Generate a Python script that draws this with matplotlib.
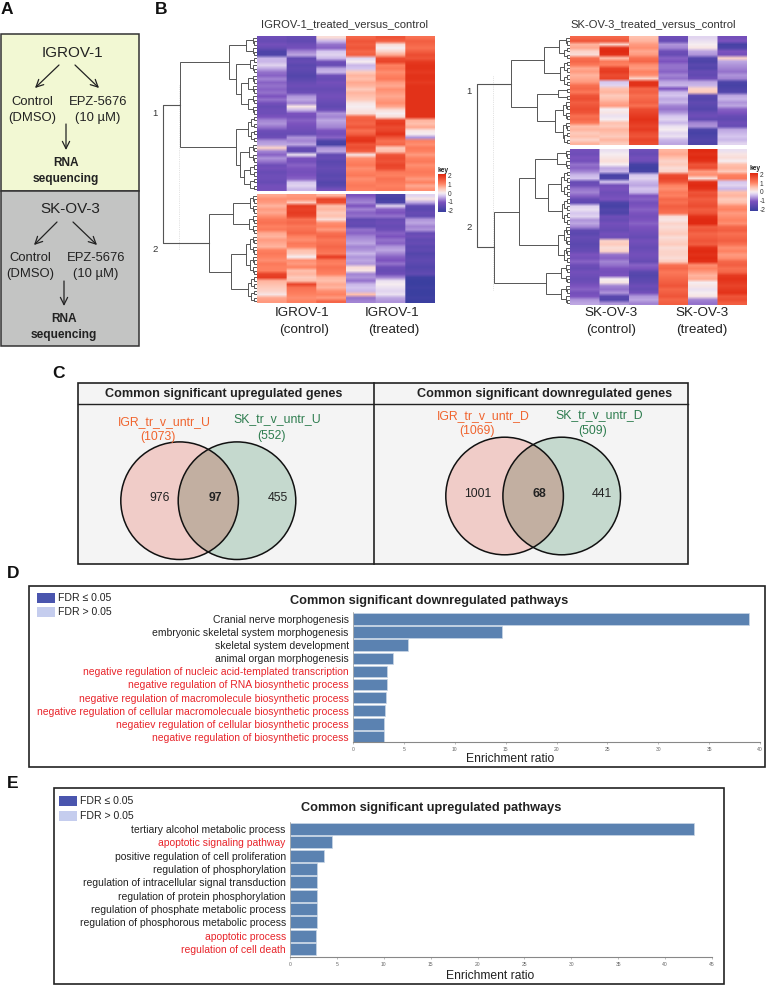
import numpy as np
import matplotlib
matplotlib.use("Agg")
import matplotlib.pyplot as plt
from matplotlib.colors import LinearSegmentedColormap
from matplotlib.patches import Rectangle, Ellipse

plt.rcParams['font.family'] = ['Liberation Sans', 'DejaVu Sans']
plt.rcParams['axes.unicode_minus'] = False

W, H = 766, 985

# heatmap values, one list per sample column
igr_top = [
    [-1.2,-1.3,-1.1,-1.3,-1.7,-1.7,-0.4,-0.4,-0.2,-0.5,
     -0.8,-0.9,-0.7,-0.9,-0.8,-0.9,-0.8,-1.0,-0.8,-1.1,
     -1.3,-1.2,-1.2,-1.0,-0.7,-0.6,-0.8,-1.2,-1.3,-1.2,
     -0.6,-0.5,0.3,-0.7,-0.9,-0.6,-0.8,-1.2,-1.1,-1.3,
     -1.2,-1.2,-1.3,-1.1,-1.1],
    [-1.3,-1.4,-1.2,-1.1,-0.7,-0.5,-1.4,-1.3,-1.5,-1.4,
     -1.5,-1.6,-1.5,-1.3,-1.2,-1.3,-1.2,-0.6,-0.5,-0.7,
     0.1,-0.4,-1.0,-1.1,-0.9,-1.0,-1.1,-1.2,-1.3,-0.6,
     -0.7,-0.5,-1.3,-1.4,-0.1,-1.0,-1.1,-0.9,-1.0,-1.1,
     -1.0,-0.9,-0.3,-0.2,-0.4],
    [0.2,-0.4,-0.8,-0.9,-0.3,-0.2,-0.4,-1.2,-1.3,-0.5,
     -0.4,-1.2,-1.3,-1.1,-1.2,-1.3,-1.2,-1.1,-1.2,-1.3,
     -1.4,-1.2,-0.6,-0.7,-0.5,-0.6,-0.7,-1.0,-1.1,-0.9,
     -1.7,-1.8,-0.6,-0.5,-1.4,-1.3,-1.5,-1.4,-1.3,-1.4,
     -1.5,-1.4,-1.6,-1.5,-1.1],
    [1.3,1.5,1.4,1.5,1.3,1.4,-0.2,0.0,-0.4,-0.3,
     0.4,0.6,0.5,0.7,0.6,0.4,0.6,0.5,0.4,0.1,
     0.0,0.1,0.2,1.3,1.4,1.3,1.5,1.2,1.4,1.8,
     1.9,1.5,1.6,1.4,0.1,0.9,1.0,1.1,0.9,1.0,
     1.1,0.9,1.0,1.1,1.0],
    [1.5,1.4,0.2,0.0,0.3,0.7,1.6,1.7,1.0,1.1,
     0.9,1.0,1.1,0.8,0.7,0.9,0.8,0.7,0.8,0.9,
     0.7,0.2,0.0,0.2,1.7,1.8,1.6,1.7,1.9,1.5,
     1.2,1.3,0.4,0.5,1.5,1.6,1.5,1.7,1.6,1.1,
     1.0,1.2,1.1,1.0,1.1],
    [1.2,1.4,1.3,1.2,1.4,1.6,1.5,1.8,1.9,1.9,
     1.8,1.9,1.9,1.8,1.9,1.9,1.9,1.9,1.9,1.9,
     1.9,1.9,1.9,1.9,0.6,0.5,0.7,0.1,0.0,-0.6,
     1.0,0.9,1.1,1.0,0.8,1.0,1.1,0.9,1.0,1.1,
     1.0,0.8,1.0,0.7,0.9],
]
igr_bottom = [
    [0.7,0.9,0.8,0.6,0.8,0.7,0.9,1.1,1.2,1.0,
     1.1,0.7,0.6,0.8,0.7,0.6,1.0,1.1,1.0,0.9,
     1.1,1.0,1.0,1.7,1.8,0.6,0.5,0.4,0.3,0.1,
     0.7,0.8],
    [0.8,0.9,0.4,1.8,1.7,1.8,1.7,1.2,1.3,1.1,
     1.2,1.3,1.0,0.9,1.1,1.0,0.5,0.4,0.0,0.9,
     0.8,1.0,0.5,0.6,0.4,0.5,1.7,1.2,1.1,1.0,
     0.9,1.0],
    [0.6,1.7,1.6,0.5,0.6,0.4,0.5,0.2,0.9,1.0,
     0.8,1.2,1.3,1.1,1.2,1.3,1.2,1.1,1.8,1.1,
     1.0,1.2,1.1,1.0,0.6,0.5,0.7,0.6,0.9,1.0,
     0.8,1.3],
    [-1.0,-0.8,-0.7,-1.0,-0.7,-0.9,-0.8,-1.4,-1.3,-1.4,
     -0.8,-0.9,-0.7,-0.6,-0.5,-0.7,-0.6,-0.4,-0.6,-0.5,
     -0.6,0.2,0.1,-0.7,-0.6,-0.8,-0.4,-0.3,-0.4,0.5,
     -0.8,-0.7],
    [-1.7,-1.8,-1.7,-0.2,-0.9,-1.0,-0.8,-1.3,-1.2,-1.3,
     -1.2,-0.9,-1.0,-0.8,-0.9,-0.6,-0.5,-0.7,-0.9,-1.0,
     -0.8,-1.2,-1.3,-1.2,-0.7,-0.1,0.0,-0.1,-0.2,-0.1,
     -0.5,-0.6],
    [-0.2,0.1,-0.5,-1.4,-1.5,-1.3,-1.4,-0.6,-0.5,-0.7,
     -0.6,-1.3,-1.2,-1.4,-1.3,-1.5,-1.4,-1.6,-1.5,-1.4,
     -1.5,-1.6,-1.5,-1.4,-1.9,-2.0,-2.0,-1.9,-2.0,-2.0,
     -1.9,-2.0],
]
sk_top = [
    [1.3,1.5,0.6,0.7,0.3,0.2,1.2,1.3,1.1,0.7,
     0.8,0.6,0.7,0.8,1.2,1.3,1.1,1.5,1.6,1.4,
     1.5,1.6,1.5,1.2,1.3,1.1,0.5,0.6,0.4,0.5,
     0.3,0.6],
    [1.3,1.5,0.3,1.9,2.0,1.9,0.5,1.1,1.0,1.7,
     1.8,1.6,1.7,-0.3,-0.2,0.5,0.6,0.4,0.5,0.7,
     0.8,0.0,0.1,-0.1,0.0,0.5,0.4,0.6,0.5,0.4,
     0.6,0.4],
    [0.5,0.6,0.8,0.9,0.7,0.8,1.2,1.3,0.9,0.8,
     1.0,0.9,0.3,1.9,1.9,1.3,1.4,1.2,1.3,1.4,
     1.2,1.6,1.7,1.8,1.9,1.8,1.7,1.8,1.6,1.5,
     1.7,1.6],
    [-1.2,-1.3,-0.6,-0.7,-1.2,-1.3,-0.9,-1.0,-0.8,-0.8,
     -0.9,-0.7,-0.8,-0.5,-0.4,-1.0,-0.4,-0.3,-0.5,-0.4,
     -0.7,-0.8,-0.6,-0.3,-0.2,-0.4,-0.1,0.0,-0.2,-0.1,
     -0.4,-0.5],
    [-0.2,-0.1,0.0,0.1,-0.5,-0.6,-1.6,-1.7,-1.5,-1.6,
     -1.3,-1.4,-1.2,-0.5,-0.4,0.3,0.4,-1.5,-1.6,-1.4,
     -1.5,-1.6,-1.3,-1.2,-1.4,-0.7,-0.6,-1.7,-1.8,-1.7,
     -1.6,-1.7],
    [-1.1,-1.0,-1.8,-1.7,-1.0,-1.1,0.3,-0.5,-0.6,-0.7,
     -0.8,-0.6,-0.7,-1.7,-1.8,-1.7,-1.6,-0.5,-0.4,-0.6,
     -0.5,-0.9,-1.0,-1.3,-1.4,-1.2,-1.3,-0.5,-0.4,-0.3,
     -0.4,-0.2],
]
sk_bottom = [
    [-1.1,-1.2,-1.0,-1.1,-0.8,-0.9,-0.7,-0.4,-0.3,-1.3,
     -1.2,-0.8,-0.7,-0.9,-1.3,-1.4,-0.2,-0.1,-0.3,-0.2,
     -0.6,-0.5,-0.7,-1.4,-1.5,-1.3,-1.4,-1.5,-1.4,-1.3,
     -1.0,-1.1,-0.9,-1.2,-1.3,-1.1,-1.2,-1.3,-1.2,-1.0,
     -0.9,-1.1,-1.0,-0.6,-0.5],
    [-0.1,0.0,0.1,0.2,0.0,-0.5,-0.4,-1.8,-1.7,-0.3,
     -1.1,-1.0,-1.2,-1.1,-1.0,-1.7,-1.8,-1.6,-1.7,-1.2,
     -1.3,-1.1,-1.2,-1.3,-1.1,-1.2,0.3,0.4,0.2,0.3,
     -0.8,-0.9,-0.7,-0.8,-1.0,-1.1,-1.0,0.0,0.1,-0.7,
     -0.8,-0.6,-1.5,-1.6,-0.6],
    [-1.2,-1.3,-1.1,-1.2,-1.8,-1.9,-1.8,-0.3,-0.2,-0.4,
     -0.5,-0.3,-0.4,-1.0,-0.9,-1.1,-1.0,-0.9,-1.0,-1.1,
     -1.0,-0.9,-1.0,-1.1,-1.2,-1.3,-1.1,-1.2,-1.3,-1.2,
     -1.1,-1.2,-1.3,-0.9,-1.0,-1.5,-1.6,-1.5,-1.4,-1.2,
     -1.3,-1.1,-0.6,-0.5,-0.7],
    [0.6,0.7,0.5,0.3,0.4,0.2,0.3,1.6,1.7,1.5,
     1.0,0.9,1.1,1.0,1.3,1.2,1.4,1.3,1.2,0.2,
     0.1,0.3,0.2,0.3,0.4,0.2,0.3,0.4,0.2,0.3,
     0.3,0.2,0.4,1.2,1.3,1.1,1.2,1.3,1.4,1.5,
     1.3,1.4,1.5,1.3,1.4],
    [2.0,1.9,2.0,1.9,1.5,1.6,0.8,0.9,0.2,1.9,
     2.0,1.9,1.5,1.6,1.4,1.5,1.6,1.4,1.5,1.9,
     2.0,2.0,1.4,1.5,1.3,1.4,1.5,1.4,1.9,2.0,
     1.9,2.0,1.9,0.9,1.0,0.8,0.6,0.7,0.0,0.1,
     -0.1,0.0,0.1,-0.7,-0.8],
    [-0.1,0.1,0.2,0.0,0.5,0.6,0.4,1.0,1.1,-0.3,
     -0.2,-0.4,0.5,0.6,0.4,0.5,0.9,1.0,0.8,0.9,
     1.0,0.9,1.3,1.4,1.2,1.3,1.4,1.2,0.9,1.0,
     0.8,0.9,1.3,1.4,1.2,1.3,1.8,1.9,1.8,1.7,
     1.8,1.9,1.5,1.6,1.4],
]

# dendrograms: (height, child, child), a bare int is a block of rows
igr_tree_top = (77, (28, (11, 3, 3), (21, (7, 2, 3), (16, (9, 3, 3), (9, 3, 3)))),
                (21, (9, 4, 4), (17, (8, 3, 3), (13, (7, 2, 2), (7, 2, 2)))))
igr_tree_bottom = (48, (24, (7, 3, 3), (8, 3, 3)),
                   (26, (11, (7, 3, 3), (7, 3, 3)), (9, 4, 4)))
sk_tree_top = (59, (26, (11, 3, 4), (10, 4, 4)),
               (33, (12, 2, 2), (15, (7, 3, 3), (7, 3, 4))))
sk_tree_bottom = (76, (51, (35, (13, 3, 3), (22, (9, 4, 4), (8, 4, 4))),
                       (12, (6, 3, 3), (6, 3, 2))),
                  (24, (9, 3, 3), (9, 3, 3)))

# enrichment bars
down_terms = ["Cranial nerve morphogenesis", "embryonic skeletal system morphogenesis",
              "skeletal system development", "animal organ morphogenesis",
              "negative regulation of nucleic acid-templated transcription",
              "negative regulation of RNA biosynthetic process",
              "negative regulation of macromolecule biosynthetic process",
              "negative regulation of cellular macromolecuale biosynthetic process",
              "negatiev regulation of cellular biosynthetic process",
              "negative regulation of biosynthetic process"]
down_ratio = [38.9, 14.65, 5.4, 3.9, 3.33, 3.33, 3.2, 3.18, 3.08, 3.04]
down_red = [0, 0, 0, 0, 1, 1, 1, 1, 1, 1]

up_terms = ["tertiary alcohol metabolic process", "apoptotic signaling pathway",
            "positive regulation of cell proliferation", "regulation of phosphorylation",
            "regulation of intracellular signal transduction",
            "regulation of protein phosphorylation",
            "regulation of phosphate metabolic process",
            "regulation of phosphorous metabolic process",
            "apoptotic process", "regulation of cell death"]
up_ratio = [43.1, 4.45, 3.66, 2.93, 2.9, 2.88, 2.83, 2.83, 2.77, 2.77]
up_red = [0, 1, 0, 0, 0, 0, 0, 0, 1, 1]

key_ticks = [2, 1, 0, -1, -2]
down_xticks = [0, 5, 10, 15, 20, 25, 30, 35, 40]
up_xticks = [0, 5, 10, 15, 20, 25, 30, 35, 40, 45]

cmap = LinearSegmentedColormap.from_list("key", [
    (0.0, "#3B3FA0"), (0.25, "#7B52BE"), (0.42, "#D4C4EE"), (0.5, "#F6EEF2"),
    (0.62, "#FFC4B2"), (0.75, "#FF8262"), (1.0, "#E02A12")])


def px_axes(x0, y0, x1, y1):
    ax = fig.add_axes([x0 / W, 1 - y1 / H, (x1 - x0) / W, (y1 - y0) / H])
    ax.patch.set_alpha(0)
    return ax


def txt(x, y, s, size, color="#222222", weight="normal", ha="center"):
    bg.text(x, y, s, fontsize=size, color=color, fontweight=weight, ha=ha, va="center")


def arrow(x0, y0, x1, y1):
    bg.annotate("", xy=(x1, y1), xytext=(x0, y0),
                arrowprops=dict(arrowstyle="->", color="#222222", lw=0.9,
                                mutation_scale=13, shrinkA=0, shrinkB=0))


def draw_tree(ax, node, row, top, step):
    # returns y of this node, its height and the next free row
    if isinstance(node, int):
        if node == 1:
            return top + (row + 0.5) * step, 0, row + 1
        h = node * 1.5
        a = node // 2
        y0, h0, row = draw_tree(ax, a, row, top, step)
        y1, h1, row = draw_tree(ax, node - a, row, top, step)
    else:
        h = node[0]
        y0, h0, row = draw_tree(ax, node[1], row, top, step)
        y1, h1, row = draw_tree(ax, node[2], row, top, step)
    ax.plot([h0, h, h, h1], [y0, y0, y1, y1], color="#555555", lw=0.7,
            solid_joinstyle="miter")
    return (y0 + y1) / 2, h, row


def heatmap(left, right, top_span, bot_span, top_cols, bot_cols, tree_top, tree_bot,
            root_h, key_x, key_y):
    for span, cols in ((top_span, top_cols), (bot_span, bot_cols)):
        ax = px_axes(left, span[0], right, span[1])
        # columns repeated so the smoothing only softens the rows, like the blurred original
        cells = np.repeat(np.array(cols).T, 30, axis=1)
        ax.imshow(cells, cmap=cmap, vmin=-2, vmax=2, aspect="auto", interpolation="bilinear")
        ax.axis("off")
    den = px_axes(left - 100, top_span[0], left, bot_span[1])
    den.set_xlim(100, 0)
    den.set_ylim(bot_span[1], top_span[0])
    den.axis("off")
    n_top = len(top_cols[0])
    n_bot = len(bot_cols[0])
    y0, h0, _ = draw_tree(den, tree_top, 0, top_span[0], (top_span[1] - top_span[0]) / n_top)
    y1, h1, _ = draw_tree(den, tree_bot, 0, bot_span[0], (bot_span[1] - bot_span[0]) / n_bot)
    den.plot([h0, root_h, root_h, h1], [y0, y0, y1, y1], color="#555555", lw=0.8)

    key = px_axes(key_x, key_y, key_x + 8, key_y + 38)
    key.imshow(np.linspace(2, -2, 60).reshape(-1, 1), cmap=cmap, vmin=-2, vmax=2,
               aspect="auto", extent=[0, 1, -2.2, 2.2])
    key.set_xticks([])
    key.set_yticks(key_ticks)
    key.yaxis.tick_right()
    key.tick_params(axis="y", length=0, pad=1, labelsize=4.8, labelcolor="#333333")
    for s in key.spines.values():
        s.set_visible(False)
    txt(key_x + 5, key_y - 4, "key", 4.8, weight="bold")


def venn(cx1, cx2, cy, r):
    bg.add_patch(Ellipse((cx1, cy), 2 * r, 2 * r, fc="#F0CCC8", ec="none"))
    bg.add_patch(Ellipse((cx2, cy), 2 * r, 2 * r, fc="#C5D9CE", ec="none"))
    over = Ellipse((cx1, cy), 2 * r, 2 * r, fc="#C2AFA1", ec="none")
    clip = Ellipse((cx2, cy), 2 * r, 2 * r, fc="none", ec="none")
    bg.add_patch(clip)
    bg.add_patch(over)
    over.set_clip_path(clip)
    for cx in (cx1, cx2):
        bg.add_patch(Ellipse((cx, cy), 2 * r, 2 * r, fc="none", ec="#111111", lw=1.1))


def bars(x0, x1, y_first, step, y_axis, xmax, terms, ratio, red, xticks, y_top):
    ax = px_axes(x0, y_top, x1, y_axis)
    ypos = np.arange(len(terms))
    ax.barh(ypos, ratio, height=0.88, color="#5B82B1", edgecolor="#C9D6E6", linewidth=0.5)
    ax.set_xlim(0, xmax)
    ax.set_ylim((y_axis - y_first) / step, (y_top - y_first) / step)
    ax.set_yticks(ypos)
    ax.set_yticklabels(terms, fontsize=7.5)
    for lab, r in zip(ax.get_yticklabels(), red):
        lab.set_color("#E8252B" if r else "#222222")
    ax.set_xticks(xticks)
    ax.tick_params(axis="x", labelsize=3.6, labelcolor="#666666", length=1.5, width=0.4,
                   color="#888888", pad=2)
    ax.tick_params(axis="y", length=0, pad=3)
    for side in ("top", "right"):
        ax.spines[side].set_visible(False)
    ax.spines["bottom"].set_color("#888888")
    ax.spines["left"].set_color("#999999")
    ax.spines["left"].set_linewidth(0.5)


def fdr_legend(x, y1, y2):
    for y, col, s in ((y1, "#4A55AE", "FDR ≤ 0.05"), (y2, "#C5CDEE", "FDR > 0.05")):
        bg.add_patch(Rectangle((x, y), 18, 10, fc=col, ec="none"))
        txt(x + 21, y + 5, s, 7.6, ha="left")


fig = plt.figure(figsize=(W / 100, H / 100), dpi=100)
bg = fig.add_axes([0, 0, 1, 1])
bg.set_xlim(0, W)
bg.set_ylim(H, 0)
bg.axis("off")

# panel letters
for x, y, s in ((1, 9, "A"), (155, 9, "B"), (52, 374, "C"), (7, 574, "D"), (7, 783, "E")):
    txt(x, y, s, 12.5, color="#111111", weight="bold", ha="left")

# panel A
bg.add_patch(Rectangle((1, 34), 138, 157, fc="#F2F8D3", ec="#333333", lw=1.1))
bg.add_patch(Rectangle((1, 191), 138, 155, fc="#C3C4C3", ec="#333333", lw=1.1))
txt(72, 53, "IGROV-1", 11)
txt(70, 209, "SK-OV-3", 11)
arrow(59, 65, 35, 88)
arrow(75, 65, 99, 88)
arrow(66, 124, 66, 150)
arrow(57, 222, 34, 245)
arrow(73, 222, 97, 245)
arrow(64, 281, 64, 306)
for dx, y0 in ((0, 102), (-2, 258)):
    txt(32 + dx, y0, "Control", 9.4)
    txt(32 + dx, y0 + 15.5, "(DMSO)", 9.4)
    txt(98 + dx, y0, "EPZ-5676", 9.4)
    txt(98 + dx, y0 + 15.5, "(10 µM)", 9.4)
    txt(66 + dx, y0 + 61, "RNA", 8.6, weight="bold")
    txt(66 + dx, y0 + 77, "sequencing", 8.6, weight="bold")

# panel B
heatmap(257, 435, (36, 191), (194, 303), igr_top, igr_bottom, igr_tree_top, igr_tree_bottom,
        94, 438, 174)
heatmap(570, 747, (36, 145), (149, 305), sk_top, sk_bottom, sk_tree_top, sk_tree_bottom,
        93, 750, 173)
txt(344, 24, "IGROV-1_treated_versus_control", 8.1, color="#333333")
txt(653, 24, "SK-OV-3_treated_versus_control", 8.1, color="#333333")
for x, y, s in ((155, 114, "1"), (155, 250, "2"), (469, 91, "1"), (469, 228, "2")):
    txt(x, y, s, 6.8, color="#333333")
bg.plot([179, 179], [85, 250], color="#C8C8C8", lw=0.5, ls=":")
bg.plot([493, 493], [76, 290], color="#C8C8C8", lw=0.5, ls=":")
for x, s in ((302, "IGROV-1"), (392, "IGROV-1"), (611, "SK-OV-3"), (702, "SK-OV-3")):
    txt(x, 313, s, 9.7)
for x, s in ((304, "(control)"), (394, "(treated)"), (611, "(control)"), (702, "(treated)")):
    txt(x, 330, s, 9.7)

# panel C
bg.add_patch(Rectangle((78, 383), 610, 181, fc="#F4F4F4", ec="#222222", lw=1.2))
bg.plot([374, 374], [383, 564], color="#222222", lw=1.2)
bg.plot([78, 688], [404, 404], color="#222222", lw=1.0)
txt(224, 394, "Common significant upregulated genes", 9.1, weight="bold")
txt(545, 394, "Common significant downregulated genes", 9.1, weight="bold")
venn(179.6, 237, 500.7, 58.8)
venn(504.6, 561.7, 496, 58.8)
ORANGE, GREEN = "#F0642E", "#2E7D4F"
txt(164, 422, "IGR_tr_v_untr_U", 8.8, color=ORANGE)
txt(158, 437, "(1073)", 8.8, color=ORANGE)
txt(277, 419, "SK_tr_v_untr_U", 8.8, color=GREEN)
txt(271, 436, "(552)", 8.8, color=GREEN)
txt(483, 416, "IGR_tr_v_untr_D", 8.8, color=ORANGE)
txt(477.5, 431, "(1069)", 8.8, color=ORANGE)
txt(599, 415, "SK_tr_v_untr_D", 8.8, color=GREEN)
txt(592.5, 431, "(509)", 8.8, color=GREEN)
txt(160, 498, "976", 8.8)
txt(215, 498, "97", 8.8, weight="bold")
txt(278, 498, "455", 8.8)
txt(478, 494, "1001", 8.8)
txt(539, 494, "68", 8.8, weight="bold")
txt(602, 494, "441", 8.8)

# panel D
bg.add_patch(Rectangle((29, 586), 736, 181, fc="white", ec="#222222", lw=1.2))
fdr_legend(37, 593, 607)
txt(429, 601, "Common significant downregulated pathways", 9.2, weight="bold")
bars(353, 760, 619, 13.1, 742, 40, down_terms, down_ratio, down_red, down_xticks, 612)
txt(510, 759, "Enrichment ratio", 8.7)

# panel E
bg.add_patch(Rectangle((54, 788), 669.5, 196, fc="white", ec="#222222", lw=1.2))
fdr_legend(59, 796, 811)
txt(431, 808, "Common significant upregulated pathways", 9.2, weight="bold")
bars(290, 712, 829, 13.33, 957, 45, up_terms, up_ratio, up_red, up_xticks, 822)
txt(490, 976, "Enrichment ratio", 8.7)

fig.savefig("out.png", dpi=100)
